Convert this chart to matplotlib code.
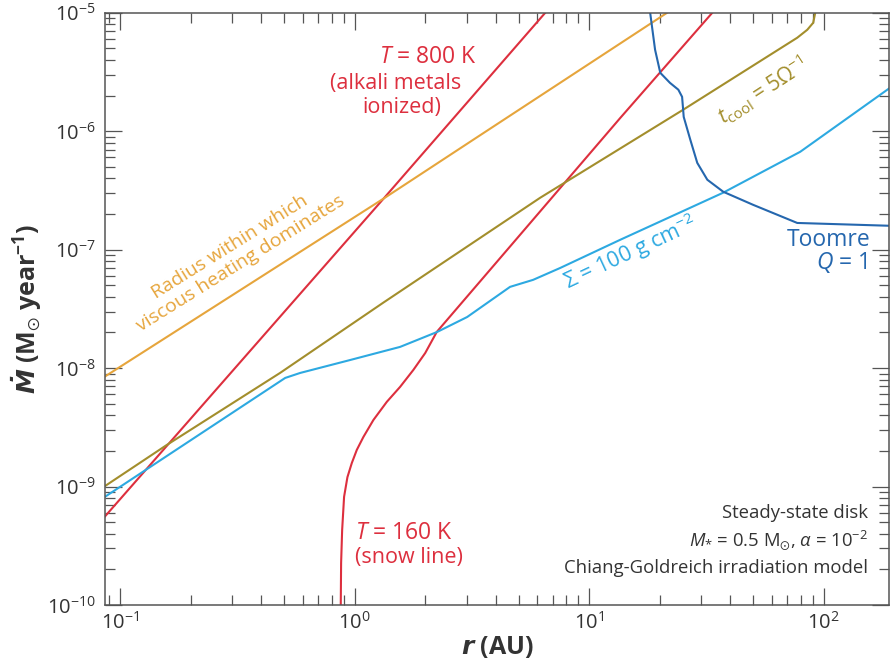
"""
Steady-state disk: accretion rate vs radius with critical lines.
"""
import matplotlib
matplotlib.use("Agg")
from matplotlib import pyplot as plt, ticker

# T = 800 K line (alkali metals ionized)
r_800 = [0.0863, 1.33, 6.5]
mdot_800 = [5.6e-10, 2.7e-7, 1.0e-5]

# T = 160 K line (snow line)
r_160 = [0.873, 0.876, 0.885, 0.902, 0.932, 0.973, 1.022, 1.090, 1.203, 1.372, 1.563,
         1.781, 2.0, 2.24, 4.47, 13.6, 33.5]
mdot_160 = [1.0e-10, 2.26e-10, 4.3e-10, 8.2e-10, 1.2e-9, 1.58e-9, 2.04e-9, 2.62e-9,
            3.65e-9, 5.19e-9, 6.94e-9, 9.66e-9, 1.34e-8, 2.02e-8, 9.95e-8, 1.3e-6, 1.0e-5]

# radius within which viscous heating dominates
r_visc = [0.0863, 1.33, 3.2, 21.5]
mdot_visc = [8.5e-9, 2.7e-7, 8.45e-7, 1.0e-5]

# t_cool = 5 / Omega
r_cool = [0.0863, 0.158, 0.481, 1.323, 6.18, 25.2, 77.1, 85.1, 90.2, 92.0]
mdot_cool = [1.01e-9, 2.24e-9, 9.1e-9, 3.56e-8, 2.74e-7, 1.52e-6, 6.15e-6, 7.18e-6,
             8.23e-6, 1.0e-5]

# Sigma = 100 g cm^-2
r_sigma = [0.0863, 0.506, 0.586, 0.957, 1.563, 2.25, 3.02, 4.6, 5.77, 7.52, 13.55,
           37.2, 79.4, 192]
mdot_sigma = [8.2e-10, 8.26e-9, 9.1e-9, 1.17e-8, 1.51e-8, 2.02e-8, 2.7e-8, 4.85e-8,
              5.56e-8, 7.0e-8, 1.21e-7, 3.02e-7, 6.7e-7, 2.33e-6]

# Toomre Q = 1
r_q = [18.2, 19.1, 20.1, 22.1, 24.0, 24.9, 25.3, 27.0, 28.9, 31.9, 37.3, 50.0, 77.1, 192]
mdot_q = [1.0e-5, 4.87e-6, 3.11e-6, 2.56e-6, 2.24e-6, 1.95e-6, 1.32e-6, 8.45e-7, 5.4e-7,
          3.89e-7, 3.08e-7, 2.39e-7, 1.68e-7, 1.59e-7]

x_major = [0.1, 1, 10, 100]
y_major = [1e-10, 1e-9, 1e-8, 1e-7, 1e-6, 1e-5]

RED = '#DD2F3E'
ORANGE = '#E6A53C'
OLIVE = '#A38E2C'
CYAN = '#2DA9E1'
BLUE = '#2567AE'
GREY = '#333333'

plt.rcParams['font.family'] = ['Open Sans', 'DejaVu Sans']
plt.rcParams['mathtext.fontset'] = 'custom'
plt.rcParams['mathtext.rm'] = 'Open Sans'
plt.rcParams['mathtext.it'] = 'Open Sans:italic'
plt.rcParams['mathtext.bf'] = 'Open Sans:bold'
# Open Sans has no combining dot, DejaVu does (needed for M-dot)
plt.rcParams['mathtext.bfit'] = 'DejaVu Sans:italic:bold'
plt.rcParams['mathtext.fallback'] = 'stixsans'

fig = plt.figure(figsize=(8.9, 6.7), dpi=100)
ax = fig.add_axes([0.118, 0.097, 0.881, 0.884])

lw = 1.5
ax.plot(r_800, mdot_800, color=RED, lw=lw)
ax.plot(r_160, mdot_160, color=RED, lw=lw)
ax.plot(r_visc, mdot_visc, color=ORANGE, lw=lw)
ax.plot(r_cool, mdot_cool, color=OLIVE, lw=lw)
ax.plot(r_sigma, mdot_sigma, color=CYAN, lw=lw)
ax.plot(r_q, mdot_q, color=BLUE, lw=lw)

ax.set_xscale('log')
ax.set_yscale('log')
ax.set_xlim(0.0863, 190)
ax.set_ylim(1e-10, 1e-5)

ax.xaxis.set_major_locator(ticker.FixedLocator(x_major))
ax.yaxis.set_major_locator(ticker.FixedLocator(y_major))
ax.xaxis.set_major_formatter(ticker.LogFormatterSciNotation())
ax.yaxis.set_major_formatter(ticker.LogFormatterSciNotation())
ax.yaxis.set_minor_locator(ticker.LogLocator(base=10, subs=range(2, 10), numticks=20))
ax.xaxis.set_minor_locator(ticker.LogLocator(base=10, subs=range(2, 10), numticks=20))
ax.xaxis.set_minor_formatter(ticker.NullFormatter())
ax.yaxis.set_minor_formatter(ticker.NullFormatter())

ax.tick_params(which='both', direction='in', top=True, right=True, colors='#555555',
               labelcolor=GREY, labelsize=14.5)
ax.tick_params(which='major', length=12.5, width=0.9)
ax.tick_params(which='minor', length=7, width=0.9)
ax.tick_params(axis='x', which='major', pad=5)
ax.tick_params(axis='y', which='major', pad=7)
for s in ax.spines.values():
    s.set_color('#555555')
    s.set_linewidth(1.1)

ax.set_xlabel(r'$\mathbfit{r}$ (AU)', fontsize=18, fontweight='bold', color=GREY, labelpad=0)
ax.set_ylabel(r'$\mathbfit{\dot{M}}$ (M$_{\odot}$ year$^{\mathbf{-1}}$)', fontsize=18,
              fontweight='bold', color=GREY, labelpad=2)

tr = ax.transAxes
fs = 15.5
ax.text(0.412, 0.926, r'$\mathit{T}$ = 800 K', color=RED, fontsize=16.5, ha='center', va='center', transform=tr)
ax.text(0.371, 0.880, '(alkali metals', color=RED, fontsize=fs, ha='center', va='center', transform=tr)
ax.text(0.379, 0.840, 'ionized)', color=RED, fontsize=fs, ha='center', va='center', transform=tr)

ax.text(0.319, 0.1216, r'$\mathit{T}$ = 160 K', color=RED, fontsize=16.5, ha='left', va='center', transform=tr)
ax.text(0.319, 0.081, '(snow line)', color=RED, fontsize=fs, ha='left', va='center', transform=tr)

ax.text(0.166, 0.591, 'Radius within which\nviscous heating dominates', color=ORANGE, fontsize=14,
        ha='center', va='center', multialignment='center', rotation=32, rotation_mode='anchor',
        linespacing=1.1, transform=tr)

ax.text(0.670, 0.5946, r'Σ = 100 g cm$^{-2}$', color=CYAN, fontsize=15.5, ha='center', va='center',
        rotation=25, rotation_mode='anchor', transform=tr)

ax.text(0.838, 0.868, r'$t_{\mathrm{cool}}$ = 5Ω$^{-1}$', color=OLIVE, fontsize=15, ha='center',
        va='center', rotation=33, rotation_mode='anchor', transform=tr)

ax.text(0.976, 0.617, 'Toomre', color=BLUE, fontsize=16.5, ha='right', va='center', transform=tr)
ax.text(0.973, 0.578, r'$\mathit{Q}$ = 1', color=BLUE, fontsize=16.5, ha='right', va='center', transform=tr)

fs2 = 13.3
ax.text(0.973, 0.155, 'Steady-state disk', color=GREY, fontsize=fs2, ha='right', va='center', transform=tr)
ax.text(0.973, 0.110, r'$\mathit{M}_{*}$ = 0.5 M$_{\odot}$, $\alpha$ = 10$^{-2}$', color=GREY, fontsize=fs2,
        ha='right', va='center', transform=tr)
ax.text(0.973, 0.0625, 'Chiang-Goldreich irradiation model', color=GREY, fontsize=fs2, ha='right',
        va='center', transform=tr)

plt.savefig('out.png', dpi=100)
